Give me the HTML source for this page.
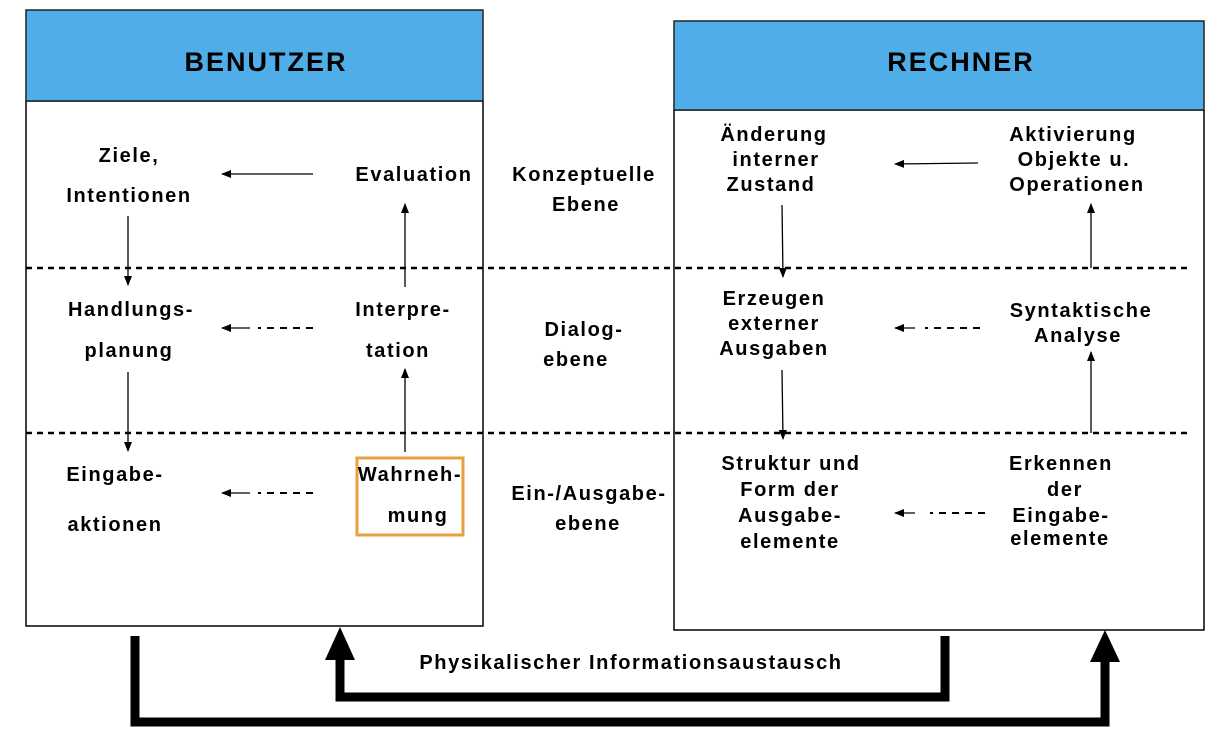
<!DOCTYPE html>
<html><head><meta charset="utf-8"><style>
html,body{margin:0;padding:0;background:#fff;}
svg{display:block;}
text{font-family:"Liberation Sans",Arial,sans-serif;font-weight:bold;font-size:20px;fill:#000;text-anchor:middle;letter-spacing:1.6px;}
</style></head><body>
<svg width="1232" height="744" viewBox="0 0 1232 744" xmlns="http://www.w3.org/2000/svg">
<defs>
<marker id="a" markerWidth="10" markerHeight="8" refX="9" refY="4" orient="auto" markerUnits="userSpaceOnUse">
<path d="M0,0 L10,4 L0,8 Z" fill="#000"/></marker>
</defs>
<rect x="26" y="101" width="457" height="525" fill="#fff" stroke="#000" stroke-width="1.5"/>
<rect x="26" y="10" width="457" height="91" fill="#4FADE8" stroke="#222" stroke-width="1.5"/>
<text x="266" y="71" style="font-size:27px;letter-spacing:2px">BENUTZER</text>
<rect x="674" y="110" width="530" height="520" fill="#fff" stroke="#000" stroke-width="1.5"/>
<rect x="674" y="21" width="530" height="89" fill="#4FADE8" stroke="#222" stroke-width="1.5"/>
<text x="961" y="71" style="font-size:27px;letter-spacing:2px">RECHNER</text>
<line x1="26" y1="268" x2="1192" y2="268" stroke="#000" stroke-width="2.5" stroke-dasharray="6,5"/>
<line x1="26" y1="433" x2="1192" y2="433" stroke="#000" stroke-width="2.5" stroke-dasharray="6,5"/>
<text x="129" y="162">Ziele,</text>
<text x="129" y="202">Intentionen</text>
<text x="414" y="181">Evaluation</text>
<text x="131" y="316">Handlungs-</text>
<text x="129" y="357">planung</text>
<text x="403" y="316">Interpre-</text>
<text x="398" y="357">tation</text>
<text x="115" y="481">Eingabe-</text>
<text x="115" y="531">aktionen</text>
<rect x="357" y="458" width="106" height="77" fill="none" stroke="#E8A040" stroke-width="3"/>
<text x="410" y="481">Wahrneh-</text>
<text x="418" y="522">mung</text>
<line x1="313" y1="174" x2="222" y2="174" stroke="#000" stroke-width="1.3" marker-end="url(#a)"/>
<line x1="313" y1="328" x2="258" y2="328" stroke="#000" stroke-width="2" stroke-dasharray="7,6"/>
<line x1="250" y1="328" x2="222" y2="328" stroke="#000" stroke-width="1.3" marker-end="url(#a)"/>
<line x1="313" y1="493" x2="258" y2="493" stroke="#000" stroke-width="2" stroke-dasharray="7,6"/>
<line x1="250" y1="493" x2="222" y2="493" stroke="#000" stroke-width="1.3" marker-end="url(#a)"/>
<line x1="128" y1="216" x2="128" y2="285" stroke="#000" stroke-width="1.3" marker-end="url(#a)"/>
<line x1="128" y1="372" x2="128" y2="451" stroke="#000" stroke-width="1.3" marker-end="url(#a)"/>
<line x1="405" y1="287" x2="405" y2="204" stroke="#000" stroke-width="1.3" marker-end="url(#a)"/>
<line x1="405" y1="452" x2="405" y2="369" stroke="#000" stroke-width="1.3" marker-end="url(#a)"/>
<text x="584" y="181">Konzeptuelle</text>
<text x="586" y="211">Ebene</text>
<text x="584" y="336">Dialog-</text>
<text x="576" y="366">ebene</text>
<text x="589" y="500">Ein-/Ausgabe-</text>
<text x="588" y="530">ebene</text>
<text x="774" y="141">Änderung</text>
<text x="776" y="166">interner</text>
<text x="771" y="191">Zustand</text>
<text x="1073" y="141">Aktivierung</text>
<text x="1074" y="166">Objekte u.</text>
<text x="1077" y="191">Operationen</text>
<text x="774" y="305">Erzeugen</text>
<text x="774" y="330">externer</text>
<text x="774" y="355">Ausgaben</text>
<text x="1081" y="317">Syntaktische</text>
<text x="1078" y="342">Analyse</text>
<text x="791" y="470">Struktur und</text>
<text x="790" y="496">Form der</text>
<text x="790" y="522">Ausgabe-</text>
<text x="790" y="548">elemente</text>
<text x="1061" y="470">Erkennen</text>
<text x="1065" y="496">der</text>
<text x="1061" y="522">Eingabe-</text>
<text x="1060" y="545">elemente</text>
<line x1="978" y1="163" x2="895" y2="164" stroke="#000" stroke-width="1.3" marker-end="url(#a)"/>
<line x1="980" y1="328" x2="925" y2="328" stroke="#000" stroke-width="2" stroke-dasharray="7,6"/>
<line x1="915" y1="328" x2="895" y2="328" stroke="#000" stroke-width="1.3" marker-end="url(#a)"/>
<line x1="985" y1="513" x2="930" y2="513" stroke="#000" stroke-width="2" stroke-dasharray="7,6"/>
<line x1="915" y1="513" x2="895" y2="513" stroke="#000" stroke-width="1.3" marker-end="url(#a)"/>
<line x1="782" y1="205" x2="783" y2="277" stroke="#000" stroke-width="1.3" marker-end="url(#a)"/>
<line x1="782" y1="370" x2="783" y2="439" stroke="#000" stroke-width="1.3" marker-end="url(#a)"/>
<line x1="1091" y1="268" x2="1091" y2="204" stroke="#000" stroke-width="1.3" marker-end="url(#a)"/>
<line x1="1091" y1="433" x2="1091" y2="352" stroke="#000" stroke-width="1.3" marker-end="url(#a)"/>
<polyline points="135,636 135,722 1105,722 1105,660" fill="none" stroke="#000" stroke-width="9"/>
<polygon points="1090,662 1120,662 1105,630" fill="#000"/>
<polyline points="945,636 945,697 340,697 340,658" fill="none" stroke="#000" stroke-width="9"/>
<polygon points="325,660 355,660 340,627" fill="#000"/>
<text x="631" y="669">Physikalischer Informationsaustausch</text>
</svg>
</body></html>
